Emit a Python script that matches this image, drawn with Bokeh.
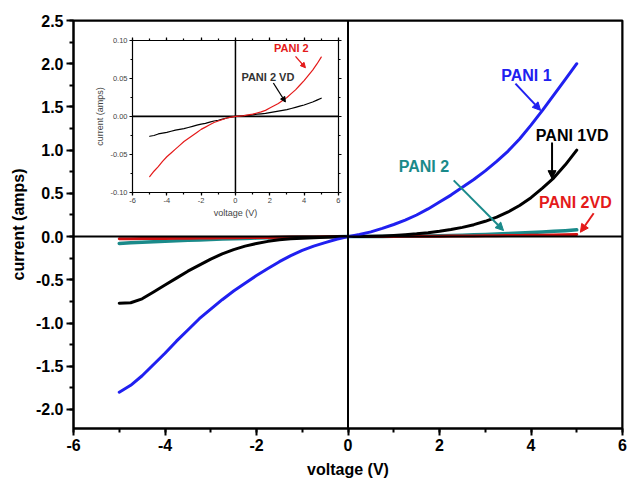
from bokeh.plotting import figure
from bokeh.models import (Range1d, LinearAxis, SingleIntervalTicker, FixedTicker,
                          NumeralTickFormatter, CustomJSTickFormatter, Span, Label,
                          Arrow, NormalHead)
from bokeh.embed import file_html
from bokeh.resources import INLINE

# ---------------- data ----------------
voltage = [-5, -4.75, -4.5, -4.25, -4, -3.75, -3.5, -3.25, -3, -2.75, -2.5, -2.25, -2, -1.75,
           -1.5, -1.25, -1, -0.75, -0.5, -0.25, 0, 0.25, 0.5, 0.75, 1, 1.25, 1.5, 1.75, 2, 2.25,
           2.5, 2.75, 3, 3.25, 3.5, 3.75, 4, 4.25, 4.5, 4.75, 5]
pani1 = [-1.80, -1.72, -1.61, -1.48, -1.35, -1.21, -1.08, -0.95, -0.84, -0.73, -0.63, -0.54,
         -0.45, -0.37, -0.29, -0.22, -0.16, -0.11, -0.07, -0.03, 0.0, 0.025, 0.055, 0.095, 0.14,
         0.19, 0.25, 0.32, 0.40, 0.48, 0.57, 0.66, 0.76, 0.87, 0.99, 1.13, 1.29, 1.46, 1.64,
         1.82, 2.00]
pani1vd = [-0.77, -0.765, -0.72, -0.64, -0.56, -0.48, -0.40, -0.33, -0.26, -0.20, -0.15, -0.11,
           -0.08, -0.055, -0.036, -0.025, -0.018, -0.012, -0.007, -0.003, 0.0, 0.002, 0.004,
           0.008, 0.014, 0.022, 0.032, 0.045, 0.062, 0.082, 0.107, 0.138, 0.177, 0.225, 0.285,
           0.36, 0.45, 0.56, 0.68, 0.83, 1.00]
pani2 = [-0.079, -0.072, -0.066, -0.059, -0.053, -0.048, -0.043, -0.038, -0.033, -0.029,
         -0.025, -0.021, -0.017, -0.014, -0.011, -0.008, -0.006, -0.004, -0.002, -0.001, 0.0,
         0.0005, 0.001, 0.002, 0.003, 0.0045, 0.006, 0.008, 0.011, 0.014, 0.017, 0.021, 0.025,
         0.030, 0.035, 0.041, 0.047, 0.054, 0.061, 0.069, 0.078]
pani2vd = [-0.026, -0.025, -0.023, -0.022, -0.021, -0.0195, -0.018, -0.017, -0.016, -0.0145,
           -0.013, -0.0115, -0.010, -0.009, -0.0075, -0.006, -0.005, -0.0035, -0.002, -0.001,
           0.0, 0.0005, 0.001, 0.0015, 0.002, 0.003, 0.0035, 0.004, 0.005, 0.006, 0.007, 0.008,
           0.009, 0.0105, 0.012, 0.0135, 0.015, 0.017, 0.019, 0.0215, 0.024]

X_RANGE = (-6, 6)
Y_RANGE = (-2.22, 2.5)
INSET_X_RANGE = (-6, 6)
INSET_Y_RANGE = (-0.10, 0.10)
INSET_Y_TICKS = [-0.10, -0.05, 0.0, 0.05, 0.10]
INSET_Y_MINOR = [-0.075, -0.025, 0.025, 0.075]
# inset frame position, in main-plot data units: (x0, x1, y0, y1)
INSET_BOX = (-4.71, -0.21, 0.51, 2.27)

FONT = "Liberation Sans"
BLUE = "#2020f0"
TEAL = "#1a8a8a"
RED = "#e41a1a"

p = figure(width=631, height=481, output_backend="svg", toolbar_location=None,
           x_range=Range1d(*X_RANGE), y_range=Range1d(*Y_RANGE),
           min_border_left=73, min_border_right=9, min_border_top=20, min_border_bottom=53,
           x_axis_label="voltage (V)", y_axis_label="current (amps)")
p.grid.grid_line_color = None
p.outline_line_color = "black"
p.outline_line_width = 2
p.background_fill_color = "white"
p.border_fill_color = "white"

# inset ranges mapped onto the inset box
bx0, bx1, by0, by1 = INSET_BOX
sx = (INSET_X_RANGE[1] - INSET_X_RANGE[0]) / (bx1 - bx0)
sy = (INSET_Y_RANGE[1] - INSET_Y_RANGE[0]) / (by1 - by0)
p.extra_x_ranges = {"ix": Range1d(INSET_X_RANGE[0] + (X_RANGE[0] - bx0) * sx,
                                  INSET_X_RANGE[0] + (X_RANGE[1] - bx0) * sx)}
p.extra_y_ranges = {"iy": Range1d(INSET_Y_RANGE[0] + (Y_RANGE[0] - by0) * sy,
                                  INSET_Y_RANGE[0] + (Y_RANGE[1] - by0) * sy)}


def style_axis(ax, label_size="16px", title_size="16px", bold=True, tick_out=7, minor_out=4, lw=2):
    ax.axis_line_width = lw
    ax.major_tick_line_width = lw
    ax.minor_tick_line_width = lw
    ax.major_tick_out = tick_out
    ax.major_tick_in = 0
    ax.minor_tick_out = minor_out
    ax.minor_tick_in = 0
    ax.major_label_text_font = FONT
    ax.major_label_text_font_size = label_size
    ax.major_label_text_color = "black"
    ax.axis_label_text_font = FONT
    ax.axis_label_text_font_size = title_size
    ax.axis_label_text_color = "black"
    st = "bold" if bold else "normal"
    ax.major_label_text_font_style = st
    ax.axis_label_text_font_style = st


# main axes
xax = p.xaxis[0]
yax = p.yaxis[0]
xax.ticker = SingleIntervalTicker(interval=2, num_minor_ticks=2)
yax.ticker = SingleIntervalTicker(interval=0.5, num_minor_ticks=2)
xax.formatter = NumeralTickFormatter(format="0")
yax.formatter = NumeralTickFormatter(format="0.0")
style_axis(xax)
style_axis(yax)
xax.major_label_standoff = 3
yax.major_label_standoff = 3
xax.axis_label_standoff = 7
yax.axis_label_standoff = 6

blank = CustomJSTickFormatter(code="return ''")
top_ax = LinearAxis(fixed_location=Y_RANGE[1], ticker=SingleIntervalTicker(interval=2, num_minor_ticks=2),
                    formatter=blank)
right_ax = LinearAxis(fixed_location=X_RANGE[1], ticker=SingleIntervalTicker(interval=0.5, num_minor_ticks=2),
                      formatter=blank)
style_axis(top_ax)
style_axis(right_ax)
p.add_layout(top_ax, "above")
p.add_layout(right_ax, "right")

# zero lines
p.add_layout(Span(location=0, dimension="width", line_color="black", line_width=2))
p.add_layout(Span(location=0, dimension="height", line_color="black", line_width=2))

# main curves
LJ = dict(line_join="round", line_cap="round")
p.line(voltage, pani2, line_color=TEAL, line_width=3.5, **LJ)
p.line(voltage, pani2vd, line_color="#d01010", line_width=3, **LJ)
p.line(voltage, pani1vd, line_color="black", line_width=3, **LJ)
p.line(voltage, pani1, line_color=BLUE, line_width=3, **LJ)

# ---------------- inset ----------------
IR = dict(x_range_name="ix", y_range_name="iy")
p.line(list(INSET_X_RANGE), [0, 0], line_color="black", line_width=1.8, **IR)
p.line([0, 0], list(INSET_Y_RANGE), line_color="black", line_width=1.5, **IR)
p.line(voltage, pani2vd, line_color="black", line_width=1.2, **IR, **LJ)
p.line(voltage, pani2, line_color=RED, line_width=1.2, **IR, **LJ)

ib = LinearAxis(fixed_location=INSET_Y_RANGE[0], bounds=INSET_X_RANGE, axis_label="voltage (V)",
                ticker=SingleIntervalTicker(interval=2, num_minor_ticks=2),
                formatter=NumeralTickFormatter(format="0"), **IR)
il = LinearAxis(fixed_location=INSET_X_RANGE[0], bounds=INSET_Y_RANGE, axis_label="current (amps)",
                ticker=FixedTicker(ticks=INSET_Y_TICKS, minor_ticks=INSET_Y_MINOR),
                formatter=NumeralTickFormatter(format="0.00"), **IR)
it = LinearAxis(fixed_location=INSET_Y_RANGE[1], bounds=INSET_X_RANGE,
                ticker=SingleIntervalTicker(interval=2, num_minor_ticks=2), formatter=blank, **IR)
ir = LinearAxis(fixed_location=INSET_X_RANGE[1], bounds=INSET_Y_RANGE,
                ticker=FixedTicker(ticks=INSET_Y_TICKS, minor_ticks=INSET_Y_MINOR),
                formatter=blank, **IR)
for ax in (ib, il, it, ir):
    style_axis(ax, label_size="7.5px", title_size="9px", bold=False, tick_out=3, minor_out=2, lw=1.2)
    ax.major_label_standoff = 2
    ax.axis_label_standoff = 2
    ax.major_label_text_color = "#444444"
    ax.axis_label_text_color = "#444444"
p.add_layout(ib, "below")
p.add_layout(il, "left")
p.add_layout(it, "above")
p.add_layout(ir, "right")


def label(x, y, text, color, size, **kw):
    p.add_layout(Label(x=x, y=y, text=text, text_color=color, text_font=FONT,
                       text_font_size=size, text_font_style="bold", text_align="center",
                       text_baseline="middle", **kw))


def arrow(x0, y0, x1, y1, color, width=2, size=8, **kw):
    p.add_layout(Arrow(x_start=x0, y_start=y0, x_end=x1, y_end=y1, line_color=color,
                       line_width=width,
                       end=NormalHead(size=size, fill_color=color, line_color=color), **kw))


# main annotations
label(3.90, 1.86, "PANI 1", BLUE, "16px")
arrow(3.66, 1.77, 4.21, 1.46, BLUE)
label(4.90, 1.17, "PANI 1VD", "black", "16px")
arrow(4.46, 1.09, 4.46, 0.67, "black")
label(1.66, 0.81, "PANI 2", TEAL, "16px")
arrow(2.31, 0.65, 3.40, 0.07, TEAL)
label(4.97, 0.39, "PANI 2VD", RED, "16px")
arrow(5.37, 0.27, 5.08, 0.05, RED)

# inset annotations
label(3.26, 0.0894, "PANI 2", RED, "11px", **IR)
arrow(3.50, 0.079, 4.08, 0.064, RED, width=1.3, size=5, **IR)
label(1.89, 0.052, "PANI 2 VD", "#333333", "11px", **IR)
arrow(2.21, 0.044, 2.91, 0.019, "black", width=1.3, size=5, **IR)

open("out.html", "w").write(file_html(p, INLINE))
